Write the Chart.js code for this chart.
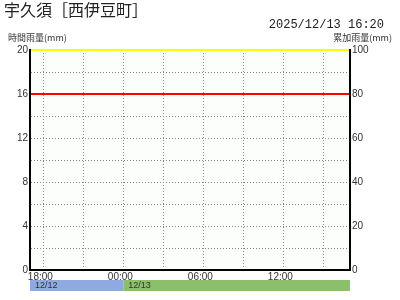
<!DOCTYPE html>
<html>
<head>
<meta charset="utf-8">
<script src="https://cdn.jsdelivr.net/npm/chart.js@4"></script>
<style>
    body { margin: 0; background: #fff; }
    .wrap { position: relative; width: 400px; height: 300px; font-family: "Noto Sans CJK JP", sans-serif; color: #222; }
    #chart { position: absolute; left: 0; top: 0; }
    .title { position: absolute; left: 4px; top: -3px; font-size: 16px; }
    .stamp { position: absolute; right: 16px; top: 18px; font-family: "Liberation Mono", monospace; font-size: 12px; }
    .unit { position: absolute; top: 31px; font-size: 9px; color: #333; }
</style>
</head>
<body>
<div class="wrap">
    <canvas id="chart" width="400" height="300"></canvas>
    <div class="title">宇久須［西伊豆町］</div>
    <div class="stamp">2025/12/13 16:20</div>
    <div class="unit" style="left:8px">時間雨量(mm)</div>
    <div class="unit" style="right:8px">累加雨量(mm)</div>
</div>
<script>
const hours = ['17:00','18:00','19:00','20:00','21:00','22:00','23:00',
               '00:00','01:00','02:00','03:00','04:00','05:00','06:00',
               '07:00','08:00','09:00','10:00','11:00','12:00','13:00',
               '14:00','15:00','16:00'];
const hourlyRain = [0,0,0,0,0,0,0,0,0,0,0,0,0,0,0,0,0,0,0,0,0,0,0,0];
const cumulativeRain = [0,0,0,0,0,0,0,0,0,0,0,0,0,0,0,0,0,0,0,0,0,0,0,0];
const dayLabels = ['12/12', '12/13'];
const labelledHours = ['18:00', '00:00', '06:00', '12:00'];
const gridHours = ['18:00','21:00','00:00','03:00','06:00','09:00','12:00','15:00'];
const levelValues = [16, 20];
const levelColors = ['#ff0000', '#ffff00'];
const dayColors = ['#8eaae0', '#8cbf6b'];

const plotBg = {
    id: 'plotBg',
    beforeDraw(chart) {
        const { ctx, chartArea: a } = chart;
        ctx.save();
        ctx.fillStyle = '#fbfefb';
        ctx.fillRect(a.left, a.top, a.right - a.left, a.bottom - a.top);
        ctx.restore();
    }
};

const levels = {
    id: 'levels',
    afterDatasetsDraw(chart) {
        const { ctx, chartArea: a, scales } = chart;
        ctx.save();
        levelValues.forEach((v, i) => {
            const y = Math.round(scales.y.getPixelForValue(v));
            ctx.strokeStyle = levelColors[i];
            ctx.lineWidth = 2;
            ctx.beginPath();
            ctx.moveTo(a.left, y);
            ctx.lineTo(a.right, y);
            ctx.stroke();
        });
        ctx.restore();
    }
};

const dayBar = {
    id: 'dayBar',
    afterDraw(chart) {
        const { ctx, scales } = chart;
        const midnight = hours.indexOf('00:00');
        const edges = [0, midnight, hours.length].map(h => scales.x.getPixelForValue(h));
        ctx.save();
        dayLabels.forEach((d, i) => {
            ctx.fillStyle = dayColors[i];
            ctx.fillRect(edges[i], 280, edges[i + 1] - edges[i], 11);
            ctx.fillStyle = '#333';
            ctx.font = '9px "Liberation Sans"';
            ctx.textBaseline = 'middle';
            ctx.fillText(d, edges[i] + 5, 286);
        });
        ctx.restore();
    }
};

const dotted = { display: true, offset: false, color: '#888', lineWidth: 1, drawTicks: false };
const tickFont = { family: 'Liberation Sans', size: 10 };

new Chart(document.getElementById('chart'), {
    data: {
        datasets: [
            {
                type: 'bar',
                label: '時間雨量',
                data: hourlyRain.map((v, i) => ({ x: i + 0.5, y: v })),
                backgroundColor: '#3a6fd8',
                barPercentage: 1,
                categoryPercentage: 1,
                yAxisID: 'y'
            },
            {
                type: 'line',
                label: '累加雨量',
                data: cumulativeRain.map((v, i) => ({ x: i + 0.5, y: v })),
                borderColor: '#ff8c1a',
                borderWidth: 1,
                pointRadius: 0,
                yAxisID: 'y1'
            }
        ]
    },
    options: {
        responsive: false,
        animation: false,
        layout: { padding: { top: 50, left: 0, right: 0, bottom: 0 } },
        plugins: { legend: { display: false }, tooltip: { enabled: false } },
        scales: {
            x: {
                type: 'linear',
                offset: false,
                min: 0,
                max: hours.length,
                afterBuildTicks: scale => {
                    scale.ticks = gridHours.map(h => ({ value: hours.indexOf(h) }));
                },
                afterFit: scale => { scale.height = 30; },
                grid: dotted,
                border: { display: true, color: '#000', width: 2, dash: [1, 2], z: 1 },
                ticks: {
                    autoSkip: false,
                    maxRotation: 0,
                    padding: 1,
                    labelOffset: -3,
                    color: '#333',
                    font: tickFont,
                    callback: v => labelledHours.includes(hours[v]) ? hours[v] : ''
                }
            },
            y: {
                position: 'left',
                min: 0,
                max: 20,
                afterFit: scale => { scale.width = 30; },
                ticks: {
                    stepSize: 2,
                    padding: 2,
                    color: '#333',
                    font: tickFont,
                    callback: v => v % 4 === 0 ? v : ''
                },
                grid: dotted,
                border: { display: true, color: '#000', width: 2, dash: [1, 2], z: 1 }
            },
            y1: {
                position: 'right',
                min: 0,
                max: 100,
                afterFit: scale => { scale.width = 50; },
                ticks: { stepSize: 20, padding: 2, color: '#333', font: tickFont },
                grid: { display: false, drawTicks: false },
                border: { display: true, color: '#000', width: 2, z: 1 }
            }
        }
    },
    plugins: [plotBg, levels, dayBar]
});
</script>
</body>
</html>
